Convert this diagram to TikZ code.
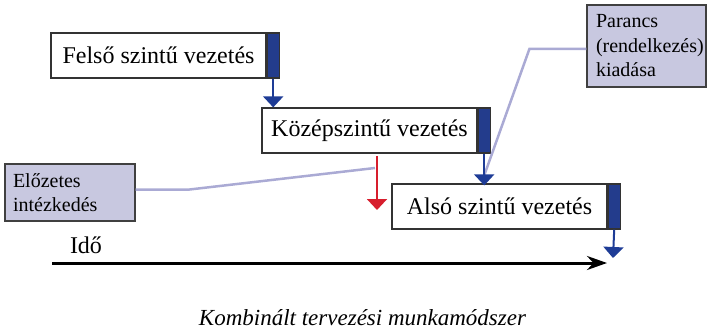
\documentclass[tikz,border=0pt]{standalone}
\usepackage{fontspec}
\setmainfont{Liberation Serif}
\usepackage{xcolor}
\usepackage{tikz}
\definecolor{barblue}{RGB}{35, 60, 140}
\definecolor{arrowblue}{RGB}{30, 60, 150}
\definecolor{noteviolet}{RGB}{200, 200, 224}
\definecolor{linkviolet}{RGB}{170, 170, 212}
\definecolor{stepred}{RGB}{215, 30, 45}
\usetikzlibrary{arrows.meta, positioning, calc}

\begin{document}
\begin{tikzpicture}[
    x=1pt, y=-1pt,
    level/.style={rectangle, draw=black!80, line width=1.2pt, fill=white, minimum width=215pt, minimum height=45pt, inner sep=0pt, font=\fontsize{24}{28}\selectfont},
    levelbar/.style={rectangle, draw=black!80, line width=1.2pt, fill=barblue, minimum width=12pt, minimum height=45pt, inner sep=0pt, anchor=west},
    note/.style={rectangle, draw=black!75, line width=1.2pt, fill=noteviolet, align=left, inner xsep=8pt, font=\fontsize{20}{24.5}\selectfont},
    handoff/.style={draw=arrowblue, line width=2pt, -{Triangle[width=20pt, length=11pt]}},
    link/.style={draw=linkviolet, line width=2.5pt}
]
    \useasboundingbox (0,0) rectangle (707,334);

    % the three levels with their dark end bars
    \node[level] (felso) at (158.5, 55.5) {Felső szintű vezetés};
    \node[levelbar] (felsobar) at (felso.east) {};

    \node[level] (kozep) at (369.5, 130.5) {Középszintű vezetés};
    \node[levelbar] (kozepbar) at (kozep.east) {};

    \node[level] (also) at (499.5, 206.5) {Alsó szintű vezetés};
    \node[levelbar] (alsobar) at (also.east) {};

    % notes
    \node[note, text width=114pt, minimum height=57pt] (elozetes) at (70, 192.5) {Előzetes\\intézkedés};
    \node[note, text width=101pt, minimum height=82pt, inner xsep=9pt] (parancs) at (646.5, 46) {Parancs\\(rendelkezés)\\kiadása};

    \coordinate (alsotip) at (613, 258);
    \coordinate (redtop) at (377, 156);
    \coordinate (redtip) at (377, 210);
    \coordinate (elozetesend) at (375, 168);
    \coordinate (parancsend) at (484, 176);
    \coordinate (tstart) at (52, 263);
    \coordinate (tend) at (607, 263);

    % links from the notes
    \draw[link] ([yshift=3pt]elozetes.east) -- ++(54,0) -- (elozetesend);
    \draw[link] ([yshift=-3pt]parancs.west) -- ++(-57,0) -- (parancsend);

    % hand-off arrows
    \draw[handoff] (felsobar.south) -- (felsobar.south |- kozep.north);
    \draw[handoff] (kozepbar.south) -- ([yshift=-2pt]kozepbar.south |- also.north);
    \draw[handoff] (alsobar.south) -- (alsotip);
    \draw[handoff, draw=stepred] (redtop) -- (redtip);

    % time axis
    \draw[line width=3pt, -{Stealth[length=20pt, width=14pt]}] (tstart) -- (tend);
    \node[font=\fontsize{24}{28}\selectfont] (ido) at (86, 245) {Idő};

    \node[font=\fontsize{23}{27}\selectfont\itshape] (caption) at (362.5, 318) {Kombinált tervezési munkamódszer};
\end{tikzpicture}
\end{document}
